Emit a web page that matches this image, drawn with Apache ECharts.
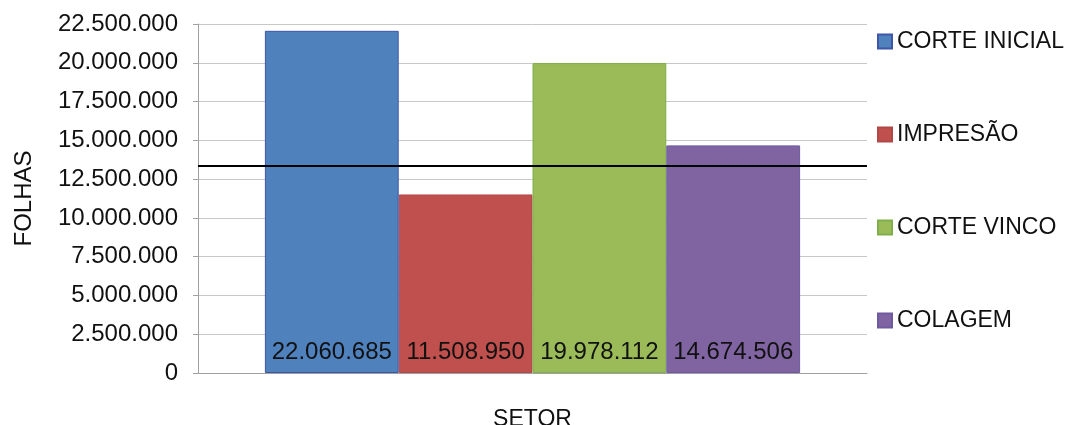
<!DOCTYPE html>
<html>
<head>
<meta charset="utf-8">
<script src="https://cdn.jsdelivr.net/npm/echarts@6/dist/echarts.min.js"></script>
<style>
  html, body { margin: 0; padding: 0; background: #fff; }
  #chart { width: 1066px; height: 425px; }
</style>
</head>
<body>
<div id="chart"></div>
<script>
// dados do gráfico
var categorias = ['SETOR'];
var setores = ['CORTE INICIAL', 'IMPRESÃO', 'CORTE VINCO', 'COLAGEM'];
var folhas = [22060685, 11508950, 19978112, 14674506];
var linhaReferencia = [13360000];
var cores = ['#4F81BD', '#C0504D', '#9BBB59', '#8064A2'];
var bordas = ['#3F55A8', '#B04848', '#7FAE4A', '#6E5A9E'];

var fonte = 'Liberation Sans, Arial, sans-serif';

// formata com ponto como separador de milhar
function milhar(v) {
    return String(Math.round(v)).replace(/\B(?=(\d{3})+(?!\d))/g, '.');
}

var chart = echarts.init(document.getElementById('chart'));

var series = [];
for (var i = 0; i < setores.length; i++) {
    var s = {
        name: setores[i],
        type: 'bar',
        barGap: '0%',
        barCategoryGap: '20%',
        data: [folhas[i]],
        itemStyle: {
            color: cores[i],
            borderColor: bordas[i],
            borderWidth: 1
        },
        label: {
            show: true,
            position: 'insideBottom',
            distance: 9,
            color: '#111',
            fontFamily: fonte,
            fontSize: 24,
            formatter: function (p) { return milhar(p.value); }
        }
    };
    if (i == 0) {
        s.markLine = {
            silent: true,
            symbol: ['none', 'none'],
            label: { show: false },
            lineStyle: { color: '#000', width: 2, type: 'solid' },
            data: [{ yAxis: linhaReferencia[0] }]
        };
        s.z = 3;
    }
    series.push(s);
}

var option = {
    animation: false,
    textStyle: { fontFamily: fonte },
    grid: { left: 198, right: 199, top: 24, bottom: 52, outerBoundsMode: 'none' },
    legend: {
        orient: 'vertical',
        left: 872,
        top: 25,
        itemWidth: 14,
        itemHeight: 14,
        itemGap: 70,
        icon: 'rect',
        textStyle: { color: '#111', fontSize: 23, lineHeight: 23, fontFamily: fonte },
        data: setores
    },
    xAxis: {
        type: 'category',
        data: categorias,
        name: 'SETOR',
        nameLocation: 'middle',
        nameGap: 35,
        nameTextStyle: { color: '#111', fontSize: 23, fontFamily: fonte },
        axisLine: { lineStyle: { color: '#a0a0a0' } },
        axisTick: { show: false },
        axisLabel: { show: false }
    },
    yAxis: {
        type: 'value',
        min: 0,
        max: 22500000,
        interval: 2500000,
        name: 'FOLHAS',
        nameLocation: 'middle',
        nameRotate: 90,
        nameGap: 162,
        nameTextStyle: { color: '#111', fontSize: 24, fontFamily: fonte },
        axisLine: { show: true, lineStyle: { color: '#a0a0a0' } },
        axisTick: { show: true, length: 5, lineStyle: { color: '#a0a0a0' } },
        axisLabel: {
            margin: 20,
            color: '#111',
            fontSize: 24,
            fontFamily: fonte,
            formatter: milhar
        },
        splitLine: { lineStyle: { color: '#c8c8c8' } }
    },
    series: series
};

chart.setOption(option);
</script>
</body>
</html>
